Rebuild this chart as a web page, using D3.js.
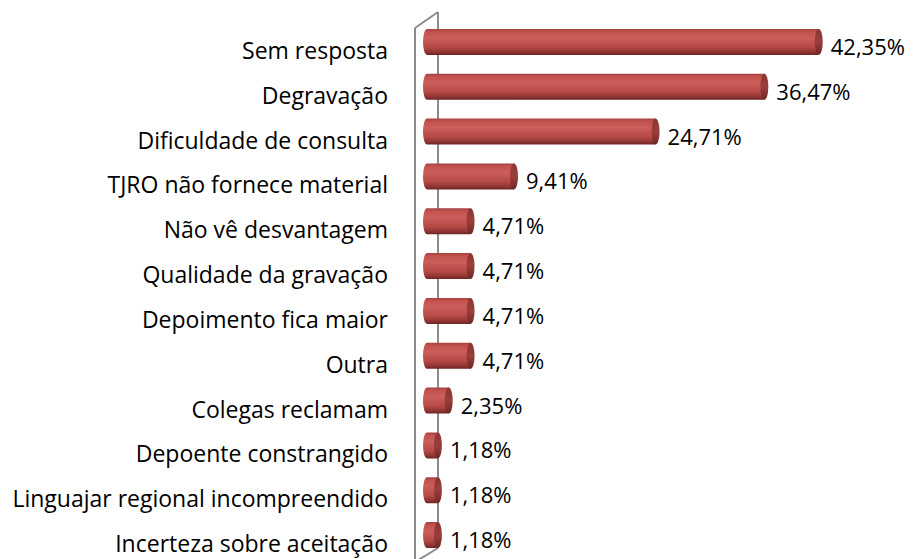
<!DOCTYPE html>
<html>
<head>
<meta charset="utf-8">
<script src="https://cdn.jsdelivr.net/npm/d3@7"></script>
<style>
  body { margin: 0; background: #fff; }
  text { font-family: "Open Sans", Lato, sans-serif; fill: #000; }
</style>
</head>
<body>
<div id="chart-area"></div>
<script>
var categories = [
  "Sem resposta", "Degravação", "Dificuldade de consulta", "TJRO não fornece material",
  "Não vê desvantagem", "Qualidade da gravação", "Depoimento fica maior", "Outra",
  "Colegas reclamam", "Depoente constrangido", "Linguajar regional incompreendido",
  "Incerteza sobre aceitação"
];
var values = [42.35, 36.47, 24.71, 9.41, 4.71, 4.71, 4.71, 4.71, 2.35, 1.18, 1.18, 1.18];
var valueLabels = ["42,35%", "36,47%", "24,71%", "9,41%", "4,71%", "4,71%", "4,71%", "4,71%",
  "2,35%", "1,18%", "1,18%", "1,18%"];

const W = 915, H = 559
const BAR_H = 26, RX = 4

const svg = d3.select("#chart-area").append("svg")
  .attr("width", W).attr("height", H)

const defs = svg.append("defs")
const grad = defs.append("linearGradient").attr("id", "cyl")
  .attr("x1", 0).attr("y1", 0).attr("x2", 0).attr("y2", 1)
grad.append("stop").attr("offset", 0).attr("stop-color", "#a5423f")
grad.append("stop").attr("offset", 0.12).attr("stop-color", "#c4524f")
grad.append("stop").attr("offset", 0.35).attr("stop-color", "#cc5e5b")
grad.append("stop").attr("offset", 0.7).attr("stop-color", "#b64a47")
grad.append("stop").attr("offset", 0.9).attr("stop-color", "#8d3432")
grad.append("stop").attr("offset", 1).attr("stop-color", "#6a2523")

const capGrad = defs.append("linearGradient").attr("id", "cap")
  .attr("x1", 0).attr("y1", 0).attr("x2", 0).attr("y2", 1)
capGrad.append("stop").attr("offset", 0).attr("stop-color", "#8a3533")
capGrad.append("stop").attr("offset", 0.5).attr("stop-color", "#9c3f3c")
capGrad.append("stop").attr("offset", 1).attr("stop-color", "#6c2725")

var x = d3.scaleLinear().domain([0, 45]).range([427, 427 + 45 * 9.25])
var y = d3.scaleBand().domain(categories).range([19.5, 557.5])
const cy = d => y(d) + y.step() / 2

// wall of the 3D axis (back line hidden behind the bars)
svg.append("line").attr("x1", 438).attr("y1", 12).attr("x2", 438).attr("y2", 548)
  .attr("stroke", "#8c8c8c").attr("stroke-width", 2)
svg.append("path").attr("d", "M415,28 L438,12 M415,562 L438,548")
  .attr("fill", "none").attr("stroke", "#8c8c8c").attr("stroke-width", 2)

const bars = svg.append("g").selectAll("g").data(categories).join("g")

bars.append("path")
  .attr("d", (d, i) => {
    const x0 = x(0), x1 = x(values[i]), c = cy(d), r = BAR_H / 2
    return `M${x1},${c - r} L${x0},${c - r} A${RX},${r} 0 0 0 ${x0},${c + r} L${x1},${c + r} Z`
  })
  .attr("fill", "url(#cyl)")

bars.append("ellipse")
  .attr("cx", (d, i) => x(values[i]))
  .attr("cy", d => cy(d))
  .attr("rx", RX).attr("ry", BAR_H / 2)
  .attr("fill", "url(#cap)")

// front wall line
svg.append("line").attr("x1", 415).attr("y1", 28).attr("x2", 415).attr("y2", 562)
  .attr("stroke", "#8c8c8c").attr("stroke-width", 2)

svg.append("g").selectAll("text").data(categories).join("text")
  .attr("x", 388)
  .attr("y", d => cy(d) + 17)
  .attr("text-anchor", "end")
  .attr("font-size", 23)
  .text(d => d)

svg.append("g").selectAll("text").data(categories).join("text")
  .attr("x", (d, i) => x(values[i]) + RX + 8)
  .attr("y", d => cy(d) + 13)
  .attr("font-size", 22)
  .text((d, i) => valueLabels[i])
</script>
</body>
</html>
